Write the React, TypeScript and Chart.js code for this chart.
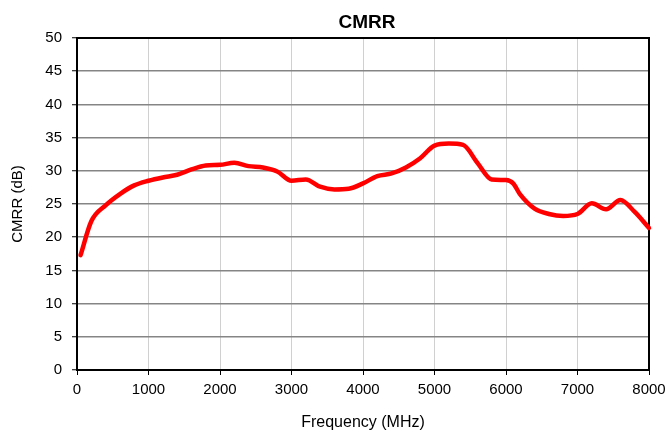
import React, { useEffect, useRef } from "react";
import { Chart, registerables } from "chart.js";

Chart.register(...registerables);

const titleText = "CMRR";
const xTitle = "Frequency (MHz)";
const yTitle = "CMRR (dB)";

const freqs = [50, 200, 400, 600, 800, 1000, 1200, 1400, 1600, 1800, 2000, 2200, 2400, 2600, 2800, 3000, 3200, 3400, 3600, 3800, 4000, 4200, 4400, 4600, 4800, 5000, 5200, 5400, 5600, 5800, 6000, 6100, 6200, 6400, 6600, 6800, 7000, 7200, 7400, 7600, 7800, 8000];
const cmrr = [17.3, 22.4, 24.8, 26.5, 27.8, 28.5, 29.0, 29.4, 30.2, 30.8, 30.9, 31.2, 30.7, 30.5, 29.9, 28.5, 28.7, 27.6, 27.2, 27.3, 28.1, 29.2, 29.6, 30.5, 31.9, 33.8, 34.1, 33.9, 31.2, 28.7, 28.6, 28.1, 26.4, 24.3, 23.5, 23.2, 23.5, 25.1, 24.2, 25.6, 23.8, 21.4];

const FONT = "'Liberation Sans', Arial, sans-serif";

const framePlugin = {
  id: "frame",
  beforeDatasetsDraw(chart: any) {
    const { ctx, chartArea: a } = chart;
    ctx.save();
    ctx.strokeStyle = "#000";
    ctx.lineWidth = 2;
    ctx.strokeRect(a.left, a.top, a.right - a.left, a.bottom - a.top);
    ctx.restore();
  },
  afterDraw(chart: any) {
    const { ctx, chartArea: a } = chart;
    ctx.save();
    ctx.fillStyle = "#000";
    ctx.font = `bold 19px ${FONT}`;
    ctx.textAlign = "center";
    ctx.textBaseline = "alphabetic";
    ctx.fillText(titleText, (a.left + a.right) / 2 + 4, 28);
    ctx.restore();
  },
};

export default function App() {
  const ref = useRef<HTMLCanvasElement | null>(null);
  useEffect(() => {
    if (!ref.current) return;
    const chart = new Chart(ref.current, {
      type: "line",
      data: {
        datasets: [
          {
            data: freqs.map((f, i) => ({ x: f, y: cmrr[i] })),
            borderColor: "#ff0000",
            backgroundColor: "#ff0000",
            borderWidth: 4.5,
            pointRadius: 0,
            cubicInterpolationMode: "monotone",
            borderJoinStyle: "round",
            borderCapStyle: "round",
            clip: false as any,
          },
        ],
      },
      options: {
        responsive: false,
        animation: false,
        layout: { padding: { top: 38, right: 19, left: 0, bottom: 0 } },
        plugins: { legend: { display: false }, title: { display: false }, tooltip: { enabled: false } },
        scales: {
          x: {
            type: "linear",
            min: 0,
            max: 8000,
            afterFit(s: any) {
              s.height = 62;
              s.paddingLeft = 0;
              s.paddingRight = 0;
            },
            ticks: {
              stepSize: 1000,
              color: "#000",
              font: { family: FONT, size: 15 },
              padding: 6,
              maxRotation: 0,
              callback: (v: any) => String(v),
            },
            grid: { color: "#d0d0d0", lineWidth: 1, tickColor: "#000", tickLength: 5, tickWidth: 1 },
            border: { display: false },
            title: { display: true, text: xTitle, color: "#000", font: { family: FONT, size: 16 }, padding: { top: 0, bottom: 0 } },
          },
          y: {
            min: 0,
            max: 50,
            afterFit(s: any) {
              s.width = 77;
              s.paddingTop = 0;
              s.paddingBottom = 0;
            },
            ticks: { stepSize: 5, color: "#000", font: { family: FONT, size: 15 }, padding: 10 },
            grid: { color: "#858585", lineWidth: 1.5, tickColor: "#000", tickLength: 5, tickWidth: 1 },
            border: { display: false },
            title: { display: true, text: yTitle, color: "#000", font: { family: FONT, size: 15 }, padding: { top: 9, bottom: 0 } },
          },
        },
      },
      plugins: [framePlugin],
    });
    return () => chart.destroy();
  }, []);
  return (
    <div style={{ position: "absolute", left: 0, top: 0, width: 668, height: 432, background: "#fff" }}>
      <canvas ref={ref} width={668} height={432} />
    </div>
  );
}
